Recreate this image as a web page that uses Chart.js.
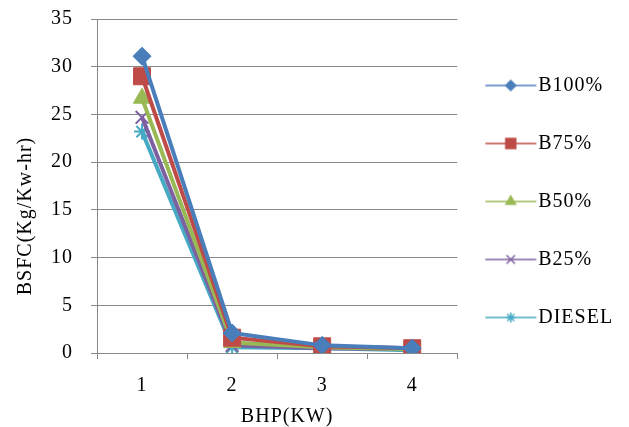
<!DOCTYPE html>
<html lang="en">
  <head>
    <meta charset="UTF-8" />
    <title>BSFC vs BHP</title>
    <style>
      html, body { margin: 0; padding: 0; background: #fff; }
      .chart-container { position: relative; width: 629px; height: 427px; }
    </style>
  </head>
  <body>
    <div class="chart-container">
      <canvas id="line"></canvas>
    </div>

    <script src="https://cdn.jsdelivr.net/npm/chart.js"></script>
    <script>
      // values
      const bhp = ["1", "2", "3", "4"];
      const b100 = [31.1, 2.1, 0.8, 0.5];
      const b75 = [29.0, 1.6, 0.7, 0.5];
      const b50 = [26.7, 1.1, 0.6, 0.4];
      const b25 = [24.7, 0.8, 0.5, 0.4];
      const diesel = [23.2, 0.6, 0.5, 0.3];

      const font = "'Liberation Serif', 'Times New Roman', serif";
      const fontSize = 20;

      const series = [
        { label: "B100%", data: b100, color: "#4A7EBB", style: "rectRot", r: 9, lr: 5 },
        { label: "B75%", data: b75, color: "#BE4B48", style: "rect", r: 12, lr: 7 },
        { label: "B50%", data: b50, color: "#98B954", style: "triangle", r: 10, lr: 5.5 },
        { label: "B25%", data: b25, color: "#7D60A0", style: "crossRot", r: 9, lr: 6 },
        { label: "DIESEL", data: diesel, color: "#46AAC5", style: "star", r: 8, lr: 5 },
      ];

      // little line + marker picture for each legend entry
      function legendIcon(s) {
        const c = document.createElement("canvas");
        c.width = 54;
        c.height = 16;
        const ctx = c.getContext("2d");
        ctx.strokeStyle = s.color;
        ctx.fillStyle = s.color;
        ctx.lineWidth = 1.5;
        ctx.beginPath();
        ctx.moveTo(0.5, 8);
        ctx.lineTo(51.5, 8);
        ctx.stroke();
        Chart.helpers.drawPoint(ctx, {
          pointStyle: s.style,
          radius: s.lr,
          rotation: 0,
          borderWidth: 1.2,
        }, 26, 8);
        if (s.style !== "crossRot" && s.style !== "star") ctx.fill();
        return c;
      }

      const bg = {
        id: "bg",
        beforeDraw(chart) {
          const ctx = chart.ctx;
          ctx.save();
          ctx.fillStyle = "#fff";
          ctx.fillRect(0, 0, chart.width, chart.height);
          ctx.restore();
        },
      };

      // the old picture's text is a little wider
      const spacing = {
        id: "spacing",
        beforeLayout(chart) {
          chart.ctx.letterSpacing = "1px";
        },
        beforeDraw(chart) {
          chart.ctx.letterSpacing = "1px";
        },
      };

      // move a scale's title along its axis while it is drawn
      function shiftTitle(scale, dx, dy) {
        if (scale._shifted) return;
        const orig = scale.drawTitle;
        scale.drawTitle = function () {
          const box = { top: this.top, bottom: this.bottom, left: this.left, right: this.right };
          this.top += dy;
          this.bottom += dy;
          this.left += dx;
          this.right += dx;
          orig.apply(this, arguments);
          Object.assign(this, box);
        };
        scale._shifted = true;
      }

      // legend a bit higher than the middle, and axis titles off-centre like the original
      const nudge = {
        id: "nudge",
        afterLayout(chart) {
          const lg = chart.legend;
          lg.bottom -= 43;
          lg.right += 20;
          lg.width += 20;
          shiftTitle(chart.scales.x, 10, 0);
          shiftTitle(chart.scales.y, 0, 30);
        },
      };

      new Chart(document.getElementById("line"), {
        type: "line",
        data: {
          labels: bhp,
          datasets: series.map((s) => ({
            label: s.label,
            data: s.data,
            borderColor: s.color,
            backgroundColor: s.color,
            borderWidth: 4,
            pointStyle: s.style,
            pointRadius: s.r,
            pointBorderWidth: s.style === "crossRot" || s.style === "star" ? 2 : 1,
            tension: 0,
          })),
        },
        options: {
          responsive: true,
          maintainAspectRatio: false,
          animation: false,
          layout: { padding: { top: 19, right: 24, bottom: 0, left: 14 } },
          plugins: {
            tooltip: { enabled: false },
            legend: {
              position: "right",
              labels: {
                usePointStyle: true,
                pointStyleWidth: 33,
                boxHeight: 16,
                padding: 38,
                color: "#000",
                font: { family: font, size: fontSize },
                generateLabels(chart) {
                  return series.map((s, i) => ({
                    text: s.label,
                    pointStyle: legendIcon(s),
                    fillStyle: s.color,
                    strokeStyle: s.color,
                    lineWidth: 0,
                    datasetIndex: i,
                  }));
                },
              },
            },
          },
          scales: {
            x: {
              offset: true,
              grid: {
                offset: true,
                drawOnChartArea: false,
                drawTicks: true,
                tickLength: 6,
                color: "#888",
              },
              border: { color: "#888" },
              ticks: { padding: 15, color: "#000", font: { family: font, size: fontSize } },
              title: {
                display: true,
                text: "BHP(KW)",
                color: "#000",
                font: { family: font, size: fontSize },
                padding: { top: 0, bottom: -2 },
              },
              afterFit(scale) {
                scale.height = 74;
              },
            },
            y: {
              min: 0,
              max: 35,
              ticks: { stepSize: 5, padding: 18, color: "#000", font: { family: font, size: fontSize } },
              grid: { color: "#888", tickLength: 6 },
              border: { color: "#888" },
              title: {
                display: true,
                text: "BSFC(Kg/Kw-hr)",
                color: "#000",
                font: { family: font, size: fontSize },
                padding: { top: 0, bottom: 0 },
              },
              afterFit(scale) {
                scale.width = 83;
                scale.paddingTop = 0;
                scale.paddingBottom = 0;
              },
            },
          },
        },
        plugins: [bg, spacing, nudge],
      });
    </script>
  </body>
</html>
